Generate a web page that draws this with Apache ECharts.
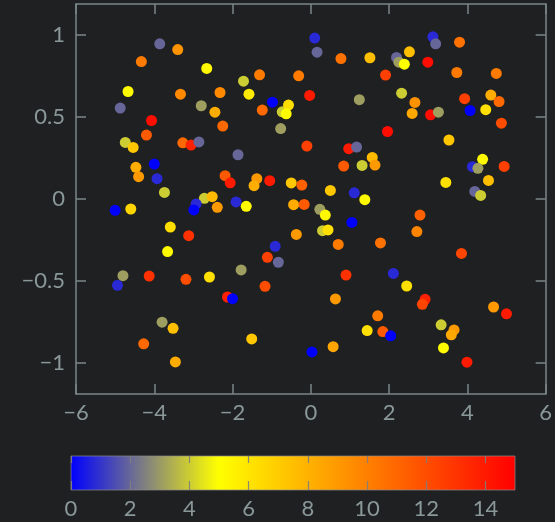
<!DOCTYPE html>
<html>
<head>
<meta charset="utf-8">
<script src="https://cdn.jsdelivr.net/npm/echarts@6/dist/echarts.min.js"></script>
<style>
  html, body { margin: 0; padding: 0; background: #1f2022; }
  #chart { width: 555px; height: 522px; }
</style>
</head>
<body>
<div id="chart"></div>
<script>
// point data
var xs = [-3.86, -3.40, -4.33, -2.66, -4.67, -3.33, -2.32, -4.87, -2.80, -2.45,
  -4.07, -2.25, -4.20, -4.74, -4.54, -3.27, -3.06, -2.86, -1.86, -4.00,
  -4.47, -4.40, -3.93, -2.19, -2.06, -3.74, -2.72, -2.52, -2.93, -2.99,
  -2.39, -1.91, -1.65, -5.00, -4.60, -3.59, -3.12, -3.66, -4.80, -4.94,
  -4.13, -3.19, -2.59, -2.13, -2.00, -3.80, -3.52, -4.27, -3.46, 0.10,
  0.16, 0.77, 1.51, 1.91, -1.31, -0.31, -1.72, -1.58, -0.03, -0.98,
  -1.24, -0.73, -0.57, -0.63, 1.24, -0.77, 1.96, -0.10, 0.97, 1.17,
  1.57, 1.64, 1.31, 0.84, -1.38, -1.45, -1.05, -0.50, -0.23, 0.50,
  1.11, 1.38, -0.44, -0.17, 0.23, 0.37, 0.30, 0.44, 1.05, -0.37,
  0.70, 1.78, -0.91, -1.11, -0.83, -1.78, 0.90, -1.17, 0.63, 1.71,
  1.44, 1.84, 2.04, -1.51, 0.03, 0.57, 3.12, 3.19, 3.80, 2.52,
  2.19, 2.25, 2.39, 2.99, 3.73, 4.74, 2.32, 2.66, 2.59, 3.06,
  3.26, 3.93, 4.07, 4.47, 4.60, 4.81, 4.87, 3.53, 4.39, 4.13,
  4.27, 4.94, 3.45, 4.54, 4.19, 4.34, 2.79, 2.71, 3.85, 2.11,
  2.45, 2.92, 2.85, 4.67, 5.00, 3.33, 3.66, 3.59, 3.39, 3.99];
var ys = [0.947, 0.912, 0.839, 0.797, 0.656, 0.640, 0.650, 0.555, 0.569, 0.530,
  0.479, 0.445, 0.390, 0.345, 0.315, 0.343, 0.329, 0.348, 0.270, 0.213,
  0.193, 0.136, 0.124, 0.142, 0.099, 0.040, 0.004, 0.014, -0.030, -0.067,
  -0.051, -0.018, -0.045, -0.069, -0.061, -0.171, -0.224, -0.321, -0.468, -0.527,
  -0.470, -0.490, -0.476, -0.598, -0.608, -0.752, -0.789, -0.884, -0.994, 0.982,
  0.896, 0.857, 0.862, 0.756, 0.758, 0.752, 0.719, 0.640, 0.632, 0.591,
  0.543, 0.532, 0.573, 0.520, 0.606, 0.430, 0.412, 0.323, 0.307, 0.317,
  0.254, 0.207, 0.205, 0.201, 0.124, 0.081, 0.112, 0.098, 0.085, 0.052,
  0.038, -0.004, -0.035, -0.033, -0.063, -0.098, -0.193, -0.189, -0.143, -0.216,
  -0.277, -0.268, -0.289, -0.356, -0.386, -0.433, -0.464, -0.533, -0.610, -0.713,
  -0.803, -0.809, -0.835, -0.854, -0.933, -0.901, 0.990, 0.947, 0.957, 0.898,
  0.864, 0.835, 0.823, 0.835, 0.772, 0.766, 0.646, 0.589, 0.522, 0.514,
  0.530, 0.612, 0.540, 0.545, 0.634, 0.595, 0.463, 0.360, 0.242, 0.197,
  0.187, 0.199, 0.101, 0.113, 0.046, 0.022, -0.098, -0.199, -0.332, -0.454,
  -0.531, -0.612, -0.643, -0.659, -0.701, -0.768, -0.799, -0.829, -0.909, -0.996];
var cs = [2, 9.2, 10.2, 5.2, 5.2, 9.6, 9.6, 2, 3.1, 8.2,
  14.5, 10.9, 11.5, 4, 7.2, 10.9, 13.7, 2, 2, 0,
  8.2, 9, 0.8, 11.5, 14, 4, 4, 7.7, 0.8, 0,
  9, 0.8, 5.2, 0, 6.6, 6.3, 13.1, 5.2, 3.1, 0.8,
  13.1, 12, 6.2, 13.7, 0, 3.1, 7.5, 10.9, 8.3, 0.8,
  2, 10.6, 7.5, 12.5, 10.2, 10.2, 4, 5.8, 14, 0,
  10.9, 4, 6.3, 5.2, 3.1, 3.1, 14.5, 12.5, 14, 2,
  7.7, 9, 4, 11.5, 9, 8.2, 14, 7.2, 11.2, 7.2,
  0.8, 5.2, 8.3, 11.5, 3.1, 5.2, 4, 6.2, 0, 9,
  10.2, 10.6, 0.8, 12.5, 2, 3.1, 13.1, 12, 9, 10.2,
  6.2, 11.5, 0, 7.2, 0, 8.5, 0.8, 2, 10.6, 7.5,
  2, 3.1, 5, 14.5, 10.2, 10.2, 4, 9.3, 8.4, 14.5,
  3.1, 12.5, 0, 6.2, 8.2, 10.9, 12, 7.2, 5.2, 0.8,
  3.1, 12.5, 6.2, 7.5, 2, 4, 11.2, 9.8, 12.3, 0.8,
  6.2, 13.7, 12.3, 9, 14, 4, 9, 8.4, 5.2, 14];

var xTicks = [-6, -4, -2, 0, 2, 4, 6];
var yTicks = [-1, -0.5, 0, 0.5, 1];
var cbTicks = [0, 2, 4, 6, 8, 10, 12, 14];
var cmapColors = ['#0000ff', '#808080', '#ffff00', '#ffbf00', '#ff8000', '#ff4000', '#ff0000'];

var points = xs.map(function (x, i) { return [x, ys[i], cs[i]]; });

var lineColor = '#7b8787';
var textColor = '#8a9898';
var fontFamily = 'Lato, "Open Sans", sans-serif';

function minus(v) {
  return String(v).replace('-', '\u2212');
}

var myChart = echarts.init(document.getElementById('chart'));

// frame axes share the same look
function frameAxis(extra) {
  var base = {
    type: 'value',
    splitLine: { show: false },
    axisLine: { onZero: false, lineStyle: { color: lineColor, width: 1.5 } },
    axisTick: { inside: true, length: 10, lineStyle: { color: lineColor, width: 1.5 } },
    axisLabel: { show: false }
  };
  return Object.assign(base, extra);
}

var option = {
  backgroundColor: '#1f2022',
  animation: false,
  textStyle: { fontFamily: fontFamily },
  grid: [
    { left: 76, top: 4, width: 470, height: 390 },
    { left: 71, top: 456, width: 444, height: 34 }
  ],
  xAxis: [
    frameAxis({
      gridIndex: 0, min: -6, max: 6, position: 'bottom',
      axisTick: { inside: true, length: 10, customValues: xTicks, lineStyle: { color: lineColor, width: 1.5 } },
      axisLabel: { customValues: xTicks, color: textColor, fontSize: 22, margin: 8, formatter: minus }
    }),
    frameAxis({
      gridIndex: 0, min: -6, max: 6, position: 'top',
      axisTick: { inside: true, length: 10, customValues: xTicks, lineStyle: { color: lineColor, width: 1.5 } }
    }),
    {
      type: 'value', gridIndex: 1, min: 0, max: 15, position: 'bottom', z: 10,
      splitLine: { show: false },
      axisLine: { show: false },
      axisTick: { inside: true, length: 9, customValues: cbTicks, lineStyle: { color: 'rgba(128,128,128,0.9)', width: 1.2 } },
      axisLabel: { customValues: cbTicks, color: textColor, fontSize: 22, margin: 8 }
    },
    {
      type: 'value', gridIndex: 1, min: 0, max: 15, position: 'top', z: 10,
      splitLine: { show: false },
      axisLine: { show: false },
      axisTick: { inside: true, length: 7, customValues: cbTicks, lineStyle: { color: 'rgba(128,128,128,0.9)', width: 1.2 } },
      axisLabel: { show: false }
    }
  ],
  yAxis: [
    frameAxis({
      gridIndex: 0, min: -1.19, max: 1.19, position: 'left',
      axisTick: { inside: true, length: 10, customValues: yTicks, lineStyle: { color: lineColor, width: 1.5 } },
      axisLabel: { customValues: yTicks, color: textColor, fontSize: 22, margin: 11, formatter: minus }
    }),
    frameAxis({
      gridIndex: 0, min: -1.19, max: 1.19, position: 'right',
      axisTick: { inside: true, length: 10, customValues: yTicks, lineStyle: { color: lineColor, width: 1.5 } }
    }),
    {
      type: 'value', gridIndex: 1, min: 0, max: 1, show: false
    }
  ],
  visualMap: {
    show: false,
    type: 'continuous',
    seriesIndex: 0,
    dimension: 2,
    min: 0,
    max: 15,
    inRange: { color: cmapColors }
  },
  series: [
    {
      type: 'scatter',
      xAxisIndex: 0,
      yAxisIndex: 0,
      symbolSize: 11,
      itemStyle: { opacity: 1 },
      data: points
    },
    {
      // colour bar
      type: 'custom',
      xAxisIndex: 2,
      yAxisIndex: 2,
      silent: true,
      data: [[0, 0]],
      renderItem: function (params, api) {
        var p0 = api.coord([0, 0]);
        var p1 = api.coord([15, 1]);
        var stops = cmapColors.map(function (c, i) {
          return { offset: i / (cmapColors.length - 1), color: c };
        });
        return {
          type: 'rect',
          shape: { x: p0[0], y: p1[1], width: p1[0] - p0[0], height: p0[1] - p1[1] },
          style: {
            fill: new echarts.graphic.LinearGradient(0, 0, 1, 0, stops),
            stroke: 'rgba(140,140,140,0.7)',
            lineWidth: 1
          }
        };
      }
    }
  ]
};

myChart.setOption(option);
</script>
</body>
</html>
